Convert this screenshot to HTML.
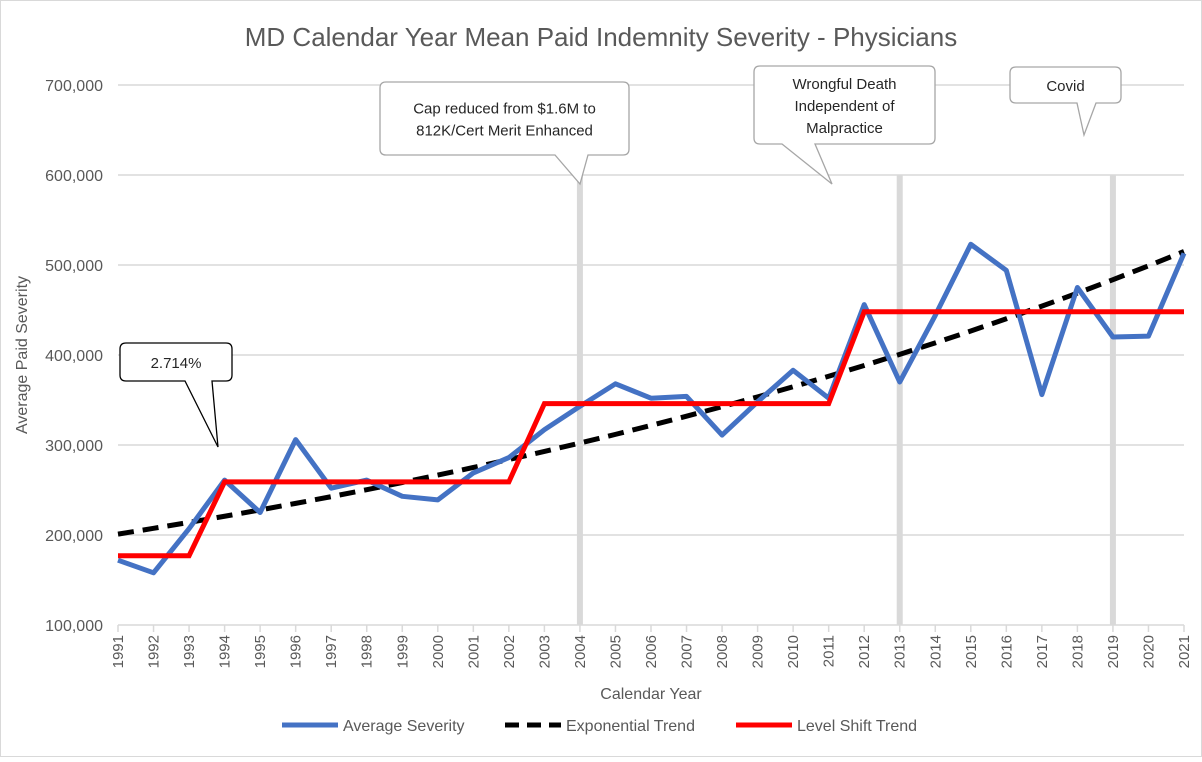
<!DOCTYPE html>
<html><head><meta charset="utf-8"><style>
body{margin:0;background:#fff;font-family:"Liberation Sans",sans-serif}
svg text{font-family:"Liberation Sans",sans-serif}
</style></head><body>
<svg id="c" width="1202" height="757" xmlns="http://www.w3.org/2000/svg">
<rect x="0.5" y="0.5" width="1201" height="756" fill="#fff" stroke="#d9d9d9"/>
<text x="601" y="46" font-size="26" fill="#595959" text-anchor="middle">MD Calendar Year Mean Paid Indemnity Severity - Physicians</text>
<g id="grid"></g>
<g id="vbars"></g>
<g id="series"></g>
<g id="callouts"></g>
<text x="27" y="355" font-size="16" fill="#595959" text-anchor="middle" transform="rotate(-90 27 355)">Average Paid Severity</text>
<text x="651" y="699" font-size="16" fill="#595959" text-anchor="middle">Calendar Year</text>
<g>
<g><line x1="282" y1="725" x2="338" y2="725" stroke="#4472c4" stroke-width="5"/><text x="343" y="731" font-size="16" fill="#595959">Average Severity</text></g>
<g><line x1="505" y1="725" x2="561" y2="725" stroke="#000" stroke-width="5" stroke-dasharray="14,8"/><text x="566" y="731" font-size="16" fill="#595959">Exponential Trend</text></g>
<g><line x1="736" y1="725" x2="792" y2="725" stroke="#ff0000" stroke-width="5"/><text x="797" y="731" font-size="16" fill="#595959">Level Shift Trend</text></g>
</g>
</svg>
<script>
const years=[];for(let y=1991;y<=2021;y++)years.push(y);
const severity=[172000,158000,207000,261000,225000,306000,252000,261000,243000,239000,269000,286000,317000,343000,368000,352000,354000,311000,348000,383000,352000,456000,370000,444000,523000,494000,356000,475000,420000,421000,513000];
const levelShift=[177000,177000,177000,259000,259000,259000,259000,259000,259000,259000,259000,259000,346000,346000,346000,346000,346000,346000,346000,346000,346000,448000,448000,448000,448000,448000,448000,448000,448000,448000,448000];
const trendStart=201000, trendEnd=515000;
const yTicks=[100000,200000,300000,400000,500000,600000,700000];
const eventYears=[2004,2013,2019];
const NS="http://www.w3.org/2000/svg";
const X0=118,X1=1184,Y0=625,Y1=85,VMIN=100000,VMAX=700000;
const xs=i=>X0+(X1-X0)*i/(years.length-1);
const xy=yr=>X0+(X1-X0)*(yr-years[0])/(years[years.length-1]-years[0]);
const ys=v=>Y0-(v-VMIN)/(VMAX-VMIN)*(Y0-Y1);
function mk(t,a,p){const e=document.createElementNS(NS,t);for(const k in a)e.setAttribute(k,a[k]);p.appendChild(e);return e;}
const grid=document.getElementById('grid');
yTicks.forEach(v=>{
 const l=mk('line',{x1:X0,x2:X1,y1:ys(v),y2:ys(v),stroke:'#d9d9d9','stroke-width':1.5},grid);
 
 
 const t=mk('text',{x:103,y:ys(v)+6,'font-size':16,fill:'#595959','text-anchor':'end'},grid);
 t.textContent=v.toLocaleString('en-US');
 
 
});
years.forEach((yr,i)=>{
 const l=mk('line',{x1:xs(i),x2:xs(i),y1:Y0,y2:Y0+7,stroke:'#d9d9d9','stroke-width':1.5},grid);
 
 
 const t=mk('text',{x:0,y:0,'font-size':15,fill:'#595959','text-anchor':'end',transform:`translate(${xs(i)+5},${Y0+10}) rotate(-90)`},grid);
 t.textContent=yr;
 
 
});
const vb=document.getElementById('vbars');
eventYears.forEach(yr=>{
 const r=mk('rect',{x:xy(yr)-3,y:ys(600000),width:6,height:Y0-ys(600000),fill:'#d9d9d9'},vb);
 
 
});
const s=document.getElementById('series');
const tr=years.map((_,i)=>trendStart*Math.pow(trendEnd/trendStart,i/(years.length-1)));
const pts=a=>a.map((v,i)=>xs(i)+','+ys(v)).join(' ');
const p1=mk('polyline',{points:pts(tr),fill:'none',stroke:'#000','stroke-width':5,'stroke-dasharray':'16,9'},s);


const p2=mk('polyline',{points:pts(severity),fill:'none',stroke:'#4472c4','stroke-width':5,'stroke-linejoin':'round'},s);


const p3=mk('polyline',{points:pts(levelShift),fill:'none',stroke:'#ff0000','stroke-width':5},s);


const co=document.getElementById('callouts');
function callout(name,x,y,w,h,t1,t2,tip,lines,fs,stroke){
 const g=mk('g',{},co);
 
 
 const r=6;
 const d=`M${x+r},${y} H${x+w-r} Q${x+w},${y} ${x+w},${y+r} V${y+h-r} Q${x+w},${y+h} ${x+w-r},${y+h} H${t2} L${tip[0]},${tip[1]} L${t1},${y+h} H${x+r} Q${x},${y+h} ${x},${y+h-r} V${y+r} Q${x},${y} ${x+r},${y} Z`;
 mk('path',{d:d,fill:'#fff',stroke:stroke,'stroke-width':1.3},g);
 lines.forEach((ln,i)=>{const t=mk('text',{x:x+w/2,y:y+h/2+6+(i-(lines.length-1)/2)*22,'font-size':fs,fill:'#262626','text-anchor':'middle'},g);t.textContent=ln;});
}
callout('callout-2714',120,343,112,38,185,212,[218,447],['2.714%'],15,'#000');
callout('callout-cap-reduced',380,82,249,73,555,588,[580,184],['Cap reduced from $1.6M to','812K/Cert Merit Enhanced'],15,'#a6a6a6');
callout('callout-wrongful-death',754,66,181,78,782,815,[832,184],['Wrongful Death','Independent of','Malpractice'],15,'#a6a6a6');
callout('callout-covid',1010,67,111,36,1077,1096,[1084,135],['Covid'],15,'#a6a6a6');
</script>
</body></html>
